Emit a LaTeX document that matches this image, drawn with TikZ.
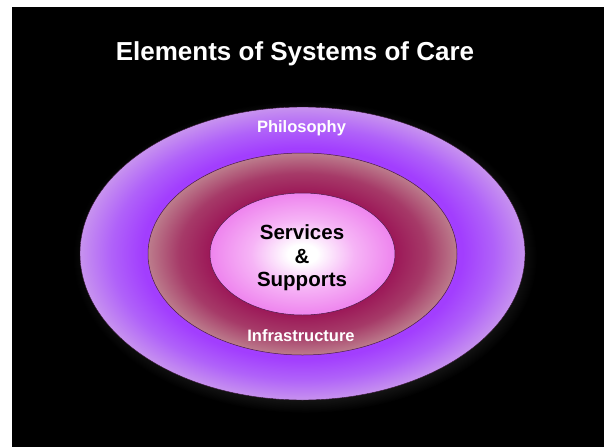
\documentclass[tikz,border=0pt]{standalone}
\usepackage{fontspec}
\setmainfont{Liberation Sans}
\definecolor{philoin}{HTML}{A23EFE}
\definecolor{philomid}{HTML}{B062F9}
\definecolor{philoout}{HTML}{C792EF}
\definecolor{infrain}{HTML}{9C1858}
\definecolor{inframid}{HTML}{A63A68}
\definecolor{infraout}{HTML}{BC7C8C}
\definecolor{servmid}{HTML}{F6B4F6}
\definecolor{servout}{HTML}{EE84EE}
\definecolor{rimline}{HTML}{4A1A48}
\definecolor{glow}{HTML}{1C1C1C}
\pgfdeclareradialshading{philoshade}{\pgfpoint{0bp}{0bp}}{color(0bp)=(philoin); color(18bp)=(philoin); color(21.5bp)=(philomid); color(25bp)=(philoout); color(50bp)=(philoout)}
\pgfdeclareradialshading{infrashade}{\pgfpoint{0bp}{0bp}}{color(0bp)=(infrain); color(15bp)=(infrain); color(20bp)=(inframid); color(25bp)=(infraout); color(50bp)=(infraout)}
\pgfdeclareradialshading{servshade}{\pgfpoint{0bp}{0bp}}{color(0bp)=(white); color(4bp)=(white); color(14bp)=(servmid); color(25bp)=(servout); color(50bp)=(servout)}
\pgfdeclareradialshading{glowshade}{\pgfpoint{0bp}{0bp}}{color(0bp)=(glow); color(22bp)=(glow); color(25bp)=(black); color(50bp)=(black)}
\begin{document}
\begin{tikzpicture}[x=1pt, y=-1pt,
  rim/.style={draw=rimline, line width=0.5pt},
  ringlabel/.style={text=white, font=\bfseries\fontsize{16.5}{18}\selectfont, anchor=base, inner sep=0pt},
  corelabel/.style={text=black, font=\bfseries\fontsize{20.5}{23.5}\selectfont, align=center, inner sep=0pt}]
\useasboundingbox (0,0) rectangle (604,447);
\fill [white] (0,0) rectangle (604,447);
\fill [black] (12,7) rectangle (604,447);
\shade [shading=glowshade] (305,257) ellipse (232 and 156);
\shade [shading=philoshade, draw=rimline!70!black, line width=0.4pt] (302.5,253.5) ellipse (222.5 and 146.5);
\shade [shading=infrashade, rim] (302.5,254) ellipse (154.5 and 101);
\shade [shading=servshade, rim] (302.5,254) ellipse (92.5 and 61);
\node (title) [text=white, font=\bfseries\fontsize{26}{28}\selectfont, anchor=base, inner sep=0pt] at (295,60) {Elements of Systems of Care};
\node (philosophy) [ringlabel] at (301.5,132) {Philosophy};
\node (infrastructure) [ringlabel] at (301,341) {Infrastructure};
\node (services) [corelabel] at (302,258) {Services\\\&\\Supports};
\end{tikzpicture}
\end{document}
